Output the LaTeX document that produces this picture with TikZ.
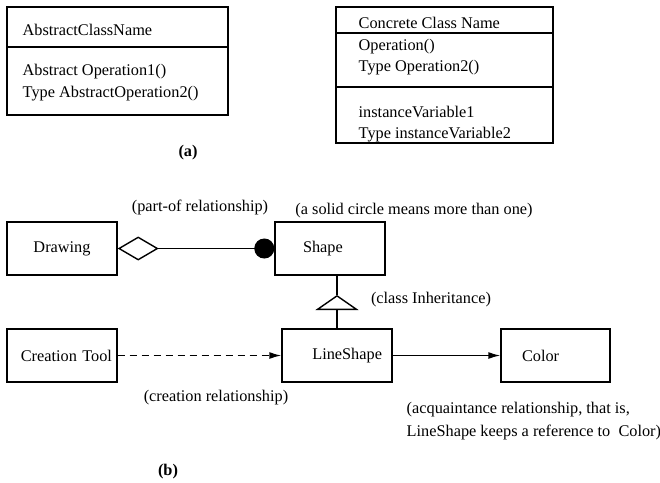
\documentclass[tikz,border=0pt]{standalone}
\usepackage{fontspec}
\setmainfont{Liberation Serif}
\usetikzlibrary{arrows.meta}
\newcommand{\diagfont}{\fontsize{16.3}{23}\selectfont}
\tikzset{
  box/.style={draw, rectangle, minimum width=110pt, minimum height=53pt, inner sep=0pt},
  txt/.style={anchor=base west, inner sep=0pt},
  note/.style={inner sep=0pt},
  tip/.style={-{Latex[length=12pt,width=7pt]}},
}
\begin{document}
\begin{tikzpicture}[x=1pt, y=-1pt, line width=1.4pt, font=\diagfont]
  \useasboundingbox (0,0) rectangle (660,482);
  % (a) class boxes
  \draw (7,7) rectangle (228,115);
  \draw (7,47) -- (228,47);
  \node[txt] (aname) at (22,35) {AbstractClassName};
  \node[txt] (aop1) at (22,75) {Abstract Operation1()};
  \node[txt] (aop2) at (22,97) {Type AbstractOperation2()};
  \draw (336,7) rectangle (553,143);
  \draw (336,33) -- (553,33);
  \draw (336,87) -- (553,87);
  \node[txt] (cname) at (358,28) {Concrete Class Name};
  \node[txt] (cop1) at (358,50) {Operation()};
  \node[txt] (cop2) at (358,71) {Type Operation2()};
  \node[txt] (cvar1) at (358,117) {instanceVariable1};
  \node[txt] (cvar2) at (358,138) {Type instanceVariable2};
  \node[note, font=\diagfont\bfseries] (capa) at (188,153) {(a)};
  % (b) relationships
  \node[box] (drawing) at (62,248.5) {Drawing};
  \node[box, text width=54pt, align=left, inner xsep=28pt] (shape) at (330,248.5) {Shape};
  \node[box, text width=100pt, align=right, inner xsep=5pt] (tool) at (62,355.5) {Creation Tool};
  \node[box, text width=90pt, align=right, inner xsep=10pt] (lineshape) at (337,355.5) {LineShape};
  \node[box, minimum width=109pt, text width=67pt, align=left, inner xsep=21pt] (color) at (555.5,355.5) {Color};
  \coordinate (apex) at (337,295);
  \draw[{Diamond[open,length=41pt,width=24pt]}-{Circle[length=20pt]}] (drawing) -- (shape);
  \draw[-{Triangle[open,length=15pt,width=43pt]}] (lineshape.north) -- (apex);
  \draw (apex) -- (apex |- shape.south);
  \draw[tip, dash pattern=on 7pt off 5pt] (tool) -- (lineshape);
  \draw[tip] (lineshape) -- (color);
  \node[note] (partof) at (200,207) {(part-of relationship)};
  \node[note] (solid) at (414,211) {(a solid circle means more than one)};
  \node[note] (inherit) at (431,300) {(class Inheritance)};
  \node[note] (creation) at (216,398) {(creation relationship)};
  \node[note, anchor=west, align=left] (acquaint) at (406,421.5) {(acquaintance relationship, that is,\\LineShape keeps a reference to\ \ Color)};
  \node[note, font=\diagfont\bfseries] (capb) at (168,472) {(b)};
\end{tikzpicture}
\end{document}
